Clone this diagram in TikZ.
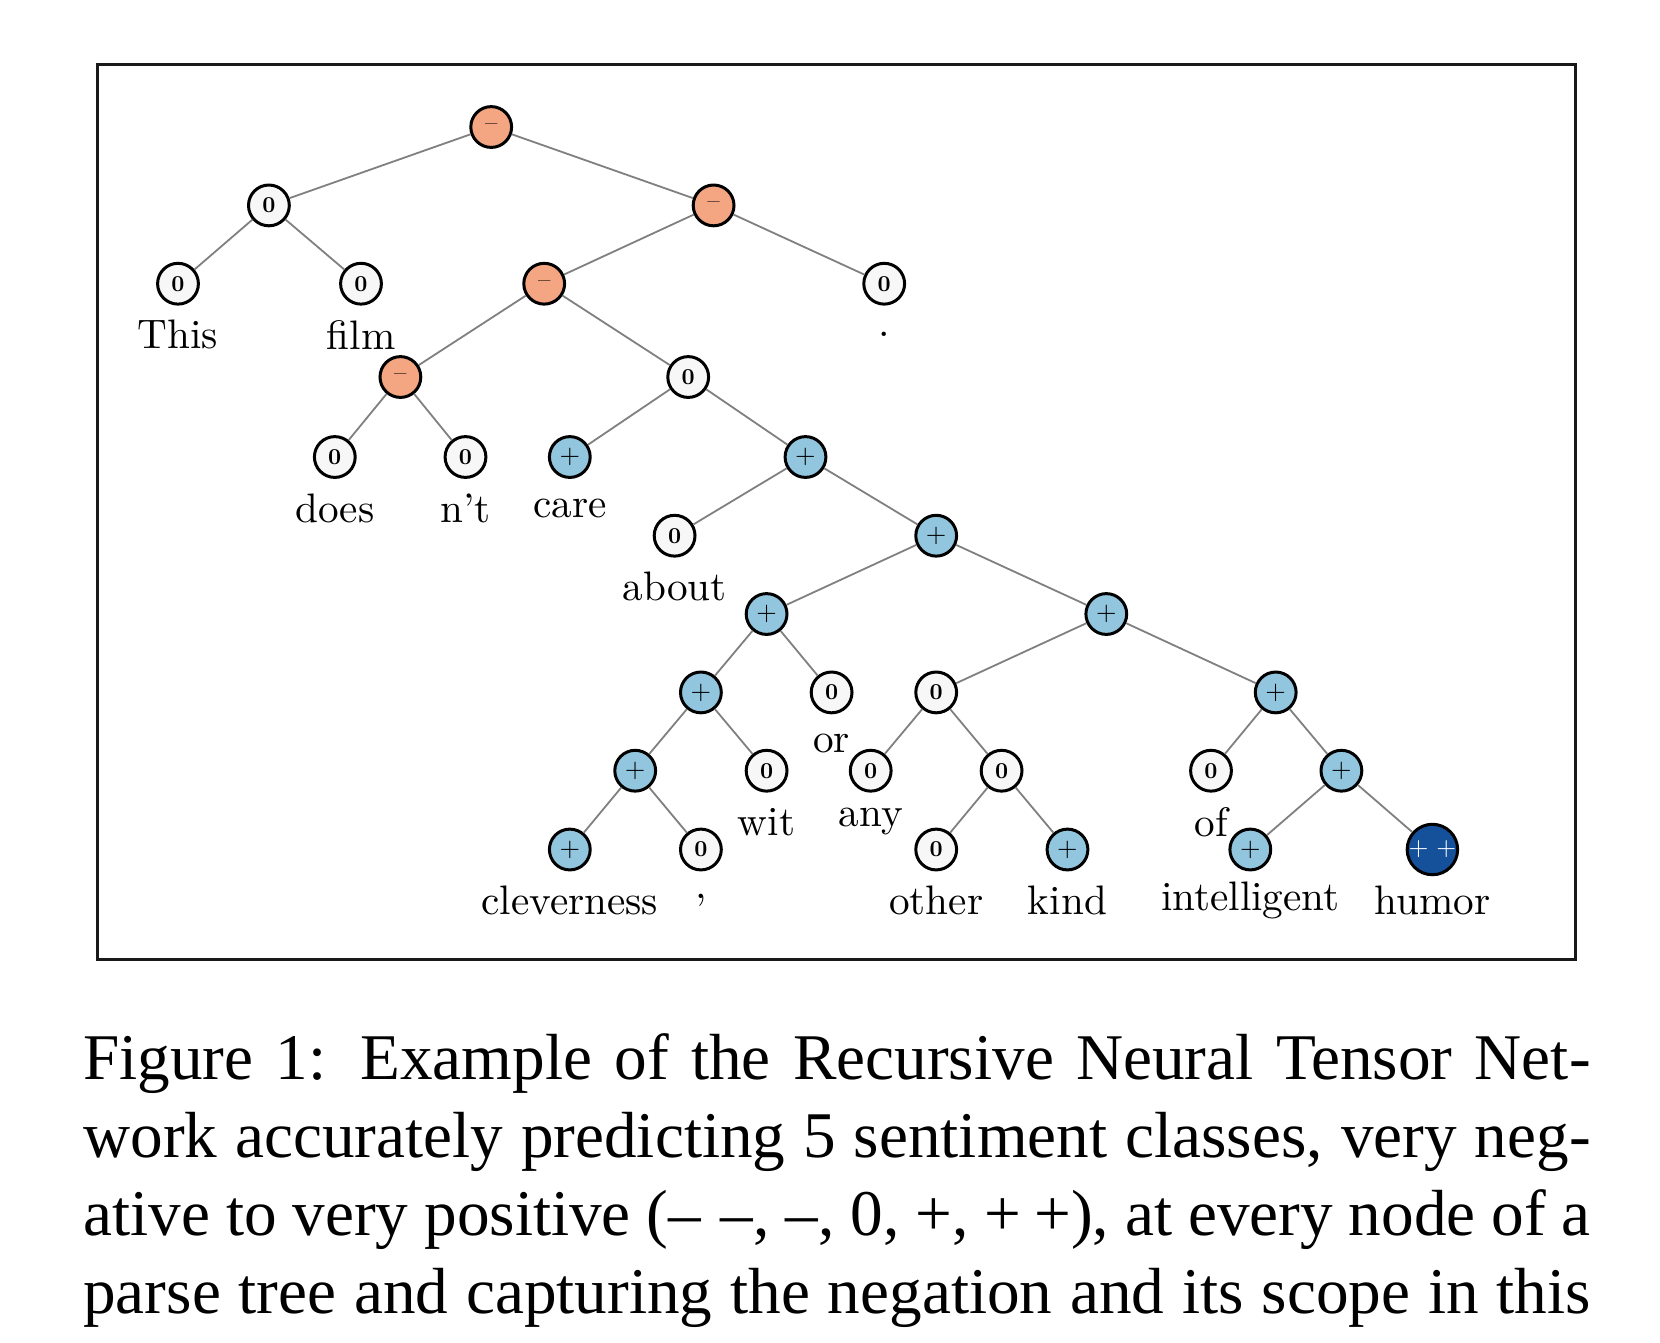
\documentclass[tikz,border=0pt]{standalone}
\usepackage{fontspec}
\newfontfamily\capfont{Liberation Serif}
\definecolor{cneg}{HTML}{F4A582}
\definecolor{czero}{HTML}{F7F7F7}
\definecolor{cpos}{HTML}{92C5DE}
\definecolor{cvpos}{HTML}{15509A}
\newcommand{\symZero}{\scalebox{0.57}{\bfseries 0}}
\newcommand{\symNeg}{\scalebox{0.62}{--}}
\newcommand{\symPos}{\scalebox{0.66}{+}}
\newcommand{\symVpos}{\scalebox{0.64}{+\kern0.3em+}}
\tikzset{
  nd/.style={circle, draw=black, line width=0.75pt, minimum size=10.2pt, inner sep=0pt, font=\fontsize{10}{12}\selectfont},
  szero/.style={nd, fill=czero},
  sneg/.style={nd, fill=cneg},
  spos/.style={nd, fill=cpos},
  svpos/.style={nd, fill=cvpos, text=white},
  word/.style={font=\fontsize{10.3}{12}\selectfont, inner sep=0pt},
  edge/.style={draw=black!50, line width=0.45pt},
  capline/.style={anchor=base west, inner sep=0pt, font=\capfont\fontsize{16.3}{19}\selectfont}
}
\begin{document}
\begin{tikzpicture}[x=0.25pt, y=-0.25pt]
\useasboundingbox[fill=white] (0,0) rectangle (1660,1342);
\draw[line width=0.6pt, draw=black!90] (97.4,64.6) rectangle (1575.3,959.5);

% internal and leaf nodes
\node[sneg]  (r)   at (491.2,127)   {\symNeg};
\node[szero] (a)   at (268.9,205.4) {\symZero};
\node[sneg]  (b)   at (713.6,205.4) {\symNeg};
\node[szero] (t1)  at (178,283.7)   {\symZero};
\node[szero] (t2)  at (361,283.7)   {\symZero};
\node[sneg]  (c)   at (544.2,283.7) {\symNeg};
\node[szero] (t3)  at (884.2,283.7) {\symZero};
\node[sneg]  (d)   at (400.4,377)   {\symNeg};
\node[szero] (e)   at (688.2,377)   {\symZero};
\node[szero] (t4)  at (334.8,457)   {\symZero};
\node[szero] (t5)  at (465.5,457)   {\symZero};
\node[spos]  (t6)  at (569.8,457)   {\symPos};
\node[spos]  (f)   at (805.5,457)   {\symPos};
\node[szero] (t7)  at (674.6,535.7) {\symZero};
\node[spos]  (g)   at (936.2,535.7) {\symPos};
\node[spos]  (h)   at (766.6,614)   {\symPos};
\node[spos]  (i)   at (1106.3,614)  {\symPos};
\node[spos]  (j)   at (700.9,692.4) {\symPos};
\node[szero] (t8)  at (831.6,692.4) {\symZero};
\node[szero] (k)   at (936.2,692.4) {\symZero};
\node[spos]  (l)   at (1275.7,692.4){\symPos};
\node[spos]  (m)   at (635.2,770.7) {\symPos};
\node[szero] (t9)  at (766.6,770.7) {\symZero};
\node[szero] (t10) at (870.7,770.7) {\symZero};
\node[szero] (n)   at (1001.6,770.7){\symZero};
\node[szero] (t11) at (1211,770.7)  {\symZero};
\node[spos]  (o)   at (1341.4,770.7){\symPos};
\node[spos]  (t12) at (569.8,849.5) {\symPos};
\node[szero] (t13) at (700.9,849.5) {\symZero};
\node[szero] (t14) at (936.2,849.5) {\symZero};
\node[spos]  (t15) at (1067.5,849.5){\symPos};
\node[spos]  (t16) at (1250.3,849.5){\symPos};
\node[svpos] (t17) at (1432.4,849.5){\symVpos};

% edges
\draw[edge] (r) -- (a);   \draw[edge] (r) -- (b);
\draw[edge] (a) -- (t1);  \draw[edge] (a) -- (t2);
\draw[edge] (b) -- (c);   \draw[edge] (b) -- (t3);
\draw[edge] (c) -- (d);   \draw[edge] (c) -- (e);
\draw[edge] (d) -- (t4);  \draw[edge] (d) -- (t5);
\draw[edge] (e) -- (t6);  \draw[edge] (e) -- (f);
\draw[edge] (f) -- (t7);  \draw[edge] (f) -- (g);
\draw[edge] (g) -- (h);   \draw[edge] (g) -- (i);
\draw[edge] (h) -- (j);   \draw[edge] (h) -- (t8);
\draw[edge] (j) -- (m);   \draw[edge] (j) -- (t9);
\draw[edge] (m) -- (t12); \draw[edge] (m) -- (t13);
\draw[edge] (i) -- (k);   \draw[edge] (i) -- (l);
\draw[edge] (k) -- (t10); \draw[edge] (k) -- (n);
\draw[edge] (n) -- (t14); \draw[edge] (n) -- (t15);
\draw[edge] (l) -- (t11); \draw[edge] (l) -- (o);
\draw[edge] (o) -- (t16); \draw[edge] (o) -- (t17);

% word labels
\node[word] (w1)  at ([yshift=-12.75pt]t1.center)  {This};
\node[word] (w2)  at ([yshift=-12.75pt]t2.center)  {film};
\node[word] (w3)  at ([yshift=-12.75pt]t3.center)  {.};
\node[word] (w4)  at ([yshift=-12.75pt]t4.center)  {does};
\node[word] (w5)  at ([yshift=-12.75pt]t5.center)  {n’t};
\node[word] (w6)  at ([yshift=-12.75pt]t6.center)  {care};
\node[word] (w7)  at ([yshift=-12.75pt]t7.center)  {about};
\node[word] (w8)  at ([yshift=-12.75pt]t8.center)  {or};
\node[word] (w9)  at ([yshift=-12.75pt]t9.center)  {wit};
\node[word] (w10) at ([yshift=-12.75pt]t10.center) {any};
\node[word] (w11) at ([yshift=-12.75pt]t11.center) {of};
\node[word] (w12) at ([yshift=-12.75pt]t12.center) {cleverness};
\node[word] (w13) at ([yshift=-12.75pt]t13.center) {,};
\node[word] (w14) at ([yshift=-12.75pt]t14.center) {other};
\node[word] (w15) at ([yshift=-12.75pt]t15.center) {kind};
\node[word] (w16) at ([yshift=-12.75pt]t16.center) {intelligent};
\node[word] (w17) at ([yshift=-12.75pt]t17.center) {humor};

% caption
\node[capline] (cap1) at (82.6,1079.3) {\makebox[376.8pt][s]{Figure 1: Example of the Recursive Neural Tensor Net-}};
\node[capline] (cap2) at (82.6,1157.2) {\makebox[376.8pt][s]{work accurately predicting 5 sentiment classes, very neg-}};
\node[capline] (cap3) at (82.6,1235.1) {\makebox[376.8pt][s]{ative to very positive (–\kern0.3em–, –, 0, +, +\kern0.2em+), at every node of a}};
\node[capline] (cap4) at (82.6,1313)   {\makebox[376.8pt][s]{parse tree and capturing the negation and its scope in this}};
\end{tikzpicture}
\end{document}
